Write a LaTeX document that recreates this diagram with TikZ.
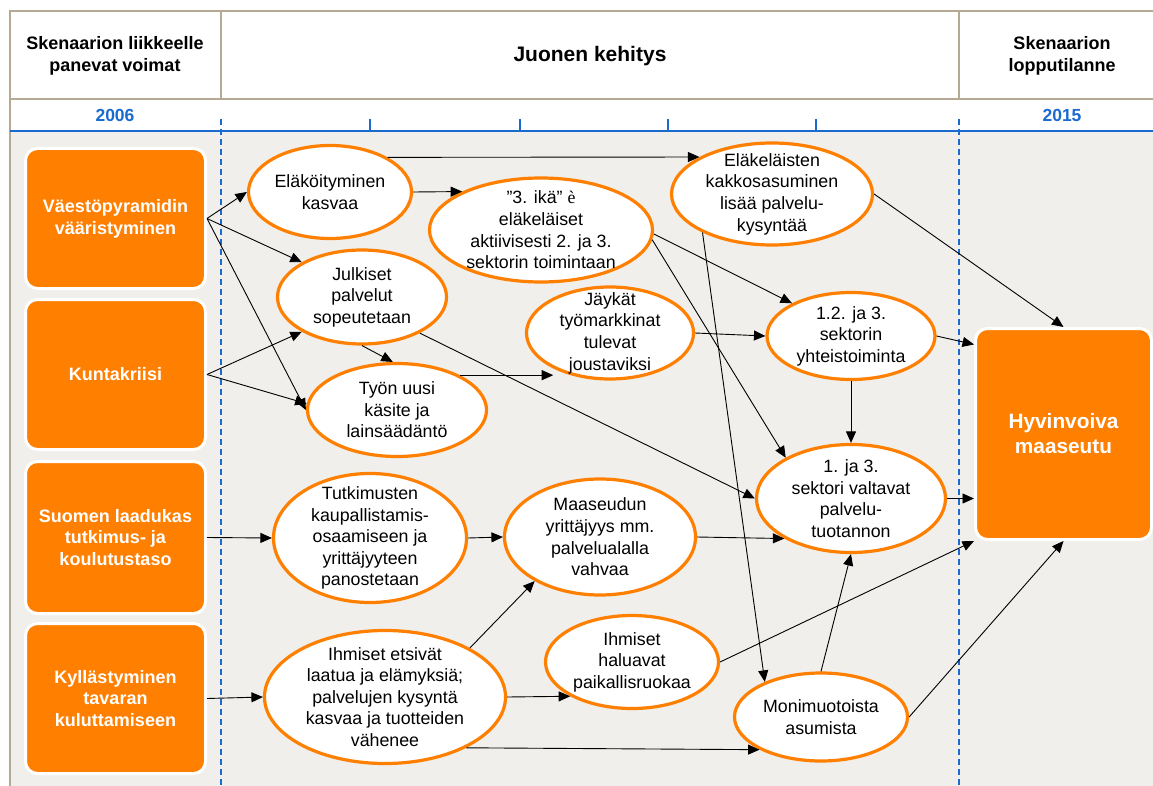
\documentclass[tikz,border=0pt]{standalone}
\usepackage{fontspec}
\setmainfont{Liberation Sans}
\newfontfamily\serifx{Liberation Serif}
\usetikzlibrary{shapes.geometric,arrows.meta,calc}
\definecolor{org}{HTML}{FF7F00}
\definecolor{blu}{HTML}{1A6AD0}
\definecolor{frm}{HTML}{B5A993}
\definecolor{bgg}{HTML}{F0EFEB}
\begin{document}
\begin{tikzpicture}[x=1pt,y=-1pt,
  ell/.style={ellipse, draw=org, line width=3.2pt, fill=white, inner sep=0pt},
  etxt/.style={font=\fontsize{17.8}{21.6}\selectfont, align=center, text=black},
  obox/.style={rectangle, rounded corners=12pt, fill=org, draw=white, line width=3pt,
    font=\bfseries\fontsize{18}{21.7}\selectfont, text=white, align=center, inner sep=0pt},
  hbox/.style={rectangle, rounded corners=12pt, fill=org, draw=white, line width=3pt,
    font=\bfseries\fontsize{20.8}{25}\selectfont, text=white, align=center, inner sep=0pt},
  htxt/.style={font=\bfseries\fontsize{18}{22}\selectfont, align=center, text=black},
  ytxt/.style={font=\bfseries\fontsize{17.5}{20}\selectfont, text=blu},
  arr/.style={line width=0.9pt, -{Triangle[length=11.5pt,width=10pt]}},
  tick/.style={blu, line width=2pt},
  vdash/.style={blu, line width=1.3pt, dash pattern=on 6pt off 4pt}
]
\useasboundingbox (0,0) rectangle (1153,786);
% background and frame
\fill[bgg] (10,132) rectangle (1153,786);
\draw[frm, line width=1.2pt] (1153,11) -- (10,11) -- (10,786);
\draw[frm, line width=1.2pt] (10,99) -- (1153,99);
\draw[frm, line width=1.2pt] (221,11) -- (221,99);
\draw[frm, line width=1.2pt] (959,11) -- (959,99);
\draw[blu, line width=2pt] (10,131) -- (1153,131);
\foreach \xx in {370,520,668,816} \draw[tick] (\xx,119) -- (\xx,131);
\draw[vdash] (221,119) -- (221,786);
\draw[vdash] (959,119) -- (959,786);
% headers
\node[htxt] (h1) at (115,56) {Skenaarion liikkeelle\\panevat voimat};
\node[htxt, font=\bfseries\fontsize{21}{24}\selectfont] (h2) at (590,56) {Juonen kehitys};
\node[htxt] (h3) at (1062,56) {Skenaarion\\lopputilanne};
\node[ytxt] (y1) at (115,115) {2006};
\node[ytxt] (y2) at (1062,115) {2015};
% left boxes
\node[obox, minimum width=180pt, minimum height=140pt] (v) at (115.5,218.5) {Väestöpyramidin\\vääristyminen};
\node[obox, minimum width=180pt, minimum height=150pt] (k) at (115.5,374.5) {Kuntakriisi};
\node[obox, minimum width=180pt, minimum height=152pt] (s) at (115.5,537.5) {Suomen laadukas\\tutkimus- ja\\koulutustaso};
\node[obox, minimum width=180pt, minimum height=150pt] (ky) at (115.5,698.5) {Kyllästyminen\\tavaran\\kuluttamiseen};
% right box
\node[hbox, minimum width=176pt, minimum height=211pt] (h) at (1063.5,434) {Hyvinvoiva\\maaseutu};
% ellipses
\node[ell, minimum width=163pt, minimum height=93pt, label={[etxt]center:Eläköityminen\\kasvaa}] (e1) at (330,192) {};
\node[ell, minimum width=223pt, minimum height=104pt, label={[etxt]center:”3. ikä” {\serifx è}\\eläkeläiset\\aktiivisesti 2. ja 3.\\sektorin toimintaan}] (e2) at (541,230) {};
\node[ell, minimum width=201pt, minimum height=102pt, label={[etxt]center:Eläkeläisten\\kakkosasuminen\\lisää palvelu-\\kysyntää}] (e3) at (772,194) {};
\node[ell, minimum width=169pt, minimum height=94pt, label={[etxt]center:Julkiset\\palvelut\\sopeutetaan}] (e4) at (362,297) {};
\node[ell, minimum width=179pt, minimum height=93pt, label={[etxt]center:Työn uusi\\käsite ja\\lainsäädäntö}] (e5) at (397,410) {};
\node[ell, minimum width=167pt, minimum height=92pt, label={[etxt]center:Jäykät\\työmarkkinat\\tulevat\\joustaviksi}] (e6) at (610,333) {};
\node[ell, minimum width=168pt, minimum height=87pt, label={[etxt]center:1.2. ja 3.\\sektorin\\yhteistoiminta}] (e7) at (851,336) {};
\node[ell, minimum width=189pt, minimum height=108pt, label={[etxt]center:1. ja 3.\\sektori valtavat\\palvelu-\\tuotannon}] (e8) at (851,498.5) {};
\node[ell, minimum width=193pt, minimum height=129pt, label={[etxt]center:Tutkimusten\\kaupallistamis-\\osaamiseen ja\\yrittäjyyteen\\panostetaan}] (e9) at (370,538) {};
\node[ell, minimum width=191pt, minimum height=116pt, label={[etxt]center:Maaseudun\\yrittäjyys mm.\\palvelualalla\\vahvaa}] (e10) at (600,537) {};
\node[ell, minimum width=241pt, minimum height=133pt, label={[etxt]center:Ihmiset etsivät\\laatua ja elämyksiä;\\palvelujen kysyntä\\kasvaa ja tuotteiden\\vähenee}] (e11) at (385,697) {};
\node[ell, minimum width=173pt, minimum height=93pt, label={[etxt]center:Ihmiset\\haluavat\\paikallisruokaa}] (e12) at (632,662) {};
\node[ell, minimum width=173pt, minimum height=88pt, label={[etxt]center:Monimuotoista\\asumista}] (e13) at (821,717) {};
% arrows
\draw[arr] (v.east) -- (e1.west);
\draw[arr] (v.east) -- (e4.150);
\draw[arr] (v.east) -- (e5.west);
\draw[arr] (k.east) -- (e4.210);
\draw[arr] (k.east) -- (e5.176);
\draw[arr] (e1.east) -- (e2.154);
\draw[arr] (e1.31) -- (e3.153);
\draw[arr] (e2.-2) -- (e7.151);
\draw[arr] (e2.-5) -- (e8.148);
\draw[arr] (e3.209) -- (e13.148);
\draw[arr] (e4.south) -- (e5.95);
\draw[arr] (e4.-32) -- (e8.west);
\draw[arr] (e5.29) -- (e5.29 -| e6.212);
\draw[arr] (e6.east) -- (e7.west);
\draw[arr] (e7.east) -- (h.135);
\draw[arr] (e3.east) -- (h.north);
\draw[arr] (e7.south) -- (e8.north);
\draw[arr] (e8.east) -- (e8.east -| h.west);
\draw[arr] (s.east) -- (e9.west);
\draw[arr] (ky.east) -- (e11.west);
\draw[arr] (e9.east) -- (e10.west);
\draw[arr] (e10.east) -- (e8.211);
\draw[arr] (e11.30) -- (e10.214);
\draw[arr] (e11.east) -- (e12.209);
\draw[arr] (e11.-32) -- (e13.208);
\draw[arr] (e12.east) -- (h.south west);
\draw[arr] (e13.north) -- (e8.south);
\draw[arr] (e13.east) -- (h.south);
\end{tikzpicture}
\end{document}
